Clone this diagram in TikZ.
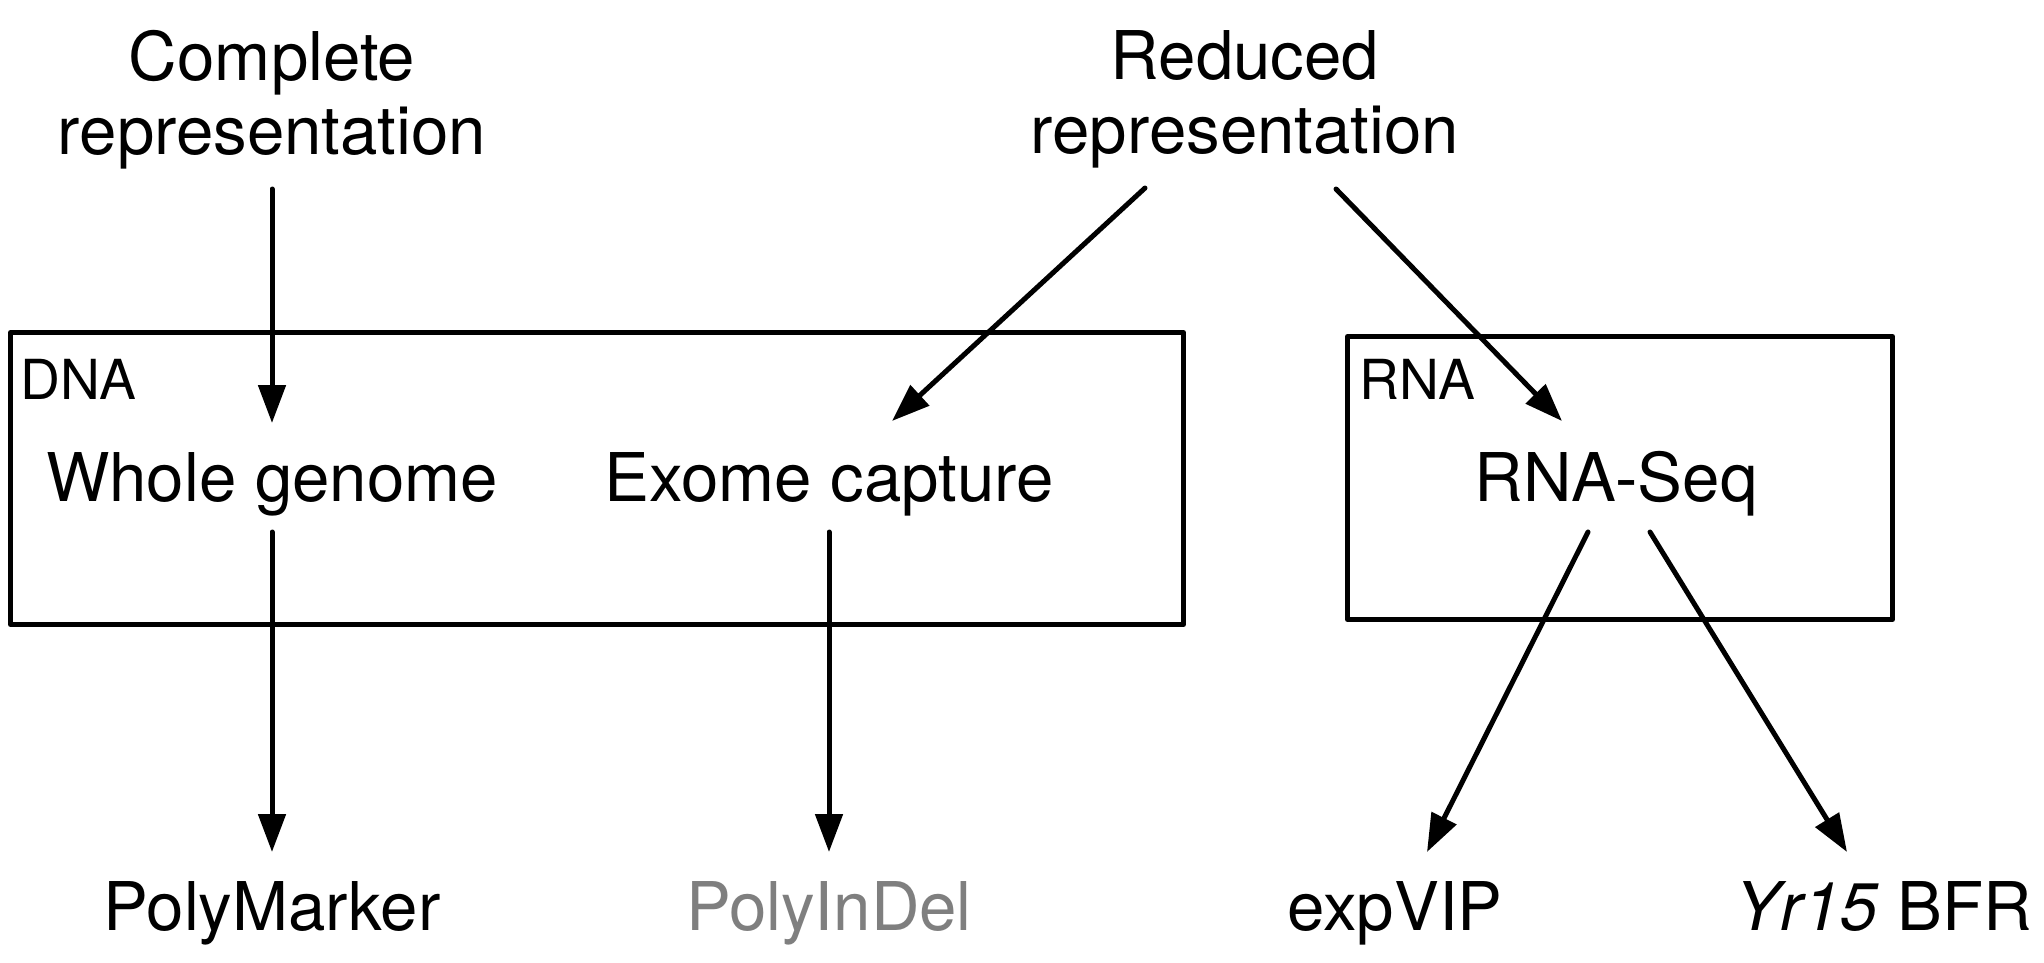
\documentclass[tikz,border=0pt]{standalone}
\usepackage{fontspec}
\setmainfont{TeX Gyre Heros}
\usetikzlibrary{arrows.meta}
\definecolor{greytext}{HTML}{7F7F7F}
\begin{document}
\begin{tikzpicture}[x=0.5pt,y=-0.5pt,
  big/.style={inner sep=0pt, font=\fontsize{33.6}{37}\selectfont},
  small/.style={inner sep=0pt, font=\fontsize{27.6}{30}\selectfont, anchor=base west},
  box/.style={draw, line width=2.5pt, line join=round, inner sep=0pt, anchor=north west},
  conn/.style={line width=2.5pt, line cap=round, -{Triangle[length=19pt,width=13.5pt]}}]
\useasboundingbox (0,0) rectangle (2044,963);
% boxes
\node (dnabox) [box, minimum width=586.5pt, minimum height=146pt] at (8,330) {};
\node (rnabox) [box, minimum width=272.5pt, minimum height=141.5pt] at (1345,334) {};
\node (dna) [small] at (20,399) {DNA};
\node (rna) [small] at (1359,399) {RNA};
% top labels
\node (complete) [big, align=center, anchor=north] at (272,30) {Complete\\representation};
\node (reduced) [big, align=center, anchor=north] at (1245,30) {Reduced\\representation};
% middle
\node (whole) [big, anchor=base] at (272,501) {Whole genome};
\node (exome) [big, anchor=base] at (829,501) {Exome capture};
\node (rnaseq) [big, anchor=base] at (1616,501) {RNA-Seq};
% bottom
\node (polymarker) [big, anchor=base] at (272,930) {PolyMarker};
\node (polyindel) [big, anchor=base, text=greytext] at (829,930) {PolyInDel};
\node (expvip) [big, anchor=base] at (1395,930) {expVIP};
\node (yr) [big, anchor=base] at (1884,930) {\textit{Yr15} BFR};
% connector ends
\coordinate (complete-out) at (272,189);
\coordinate (whole-in) at (272,423);
\coordinate (reduced-outL) at (1145,188);
\coordinate (exome-in) at (892,421);
\coordinate (reduced-outR) at (1336,189);
\coordinate (rnaseq-in) at (1562,421);
\coordinate (whole-out) at (272,532);
\coordinate (polymarker-in) at (272,852);
\coordinate (exome-out) at (829,532);
\coordinate (polyindel-in) at (829,852);
\coordinate (rnaseq-outL) at (1588,532);
\coordinate (expvip-in) at (1427,852);
\coordinate (rnaseq-outR) at (1650,532);
\coordinate (yr-in) at (1847,852);
% connectors
\draw[conn] (complete-out) -- (whole-in);
\draw[conn] (reduced-outL) -- (exome-in);
\draw[conn] (reduced-outR) -- (rnaseq-in);
\draw[conn] (whole-out) -- (polymarker-in);
\draw[conn] (exome-out) -- (polyindel-in);
\draw[conn] (rnaseq-outL) -- (expvip-in);
\draw[conn] (rnaseq-outR) -- (yr-in);
\end{tikzpicture}
\end{document}
